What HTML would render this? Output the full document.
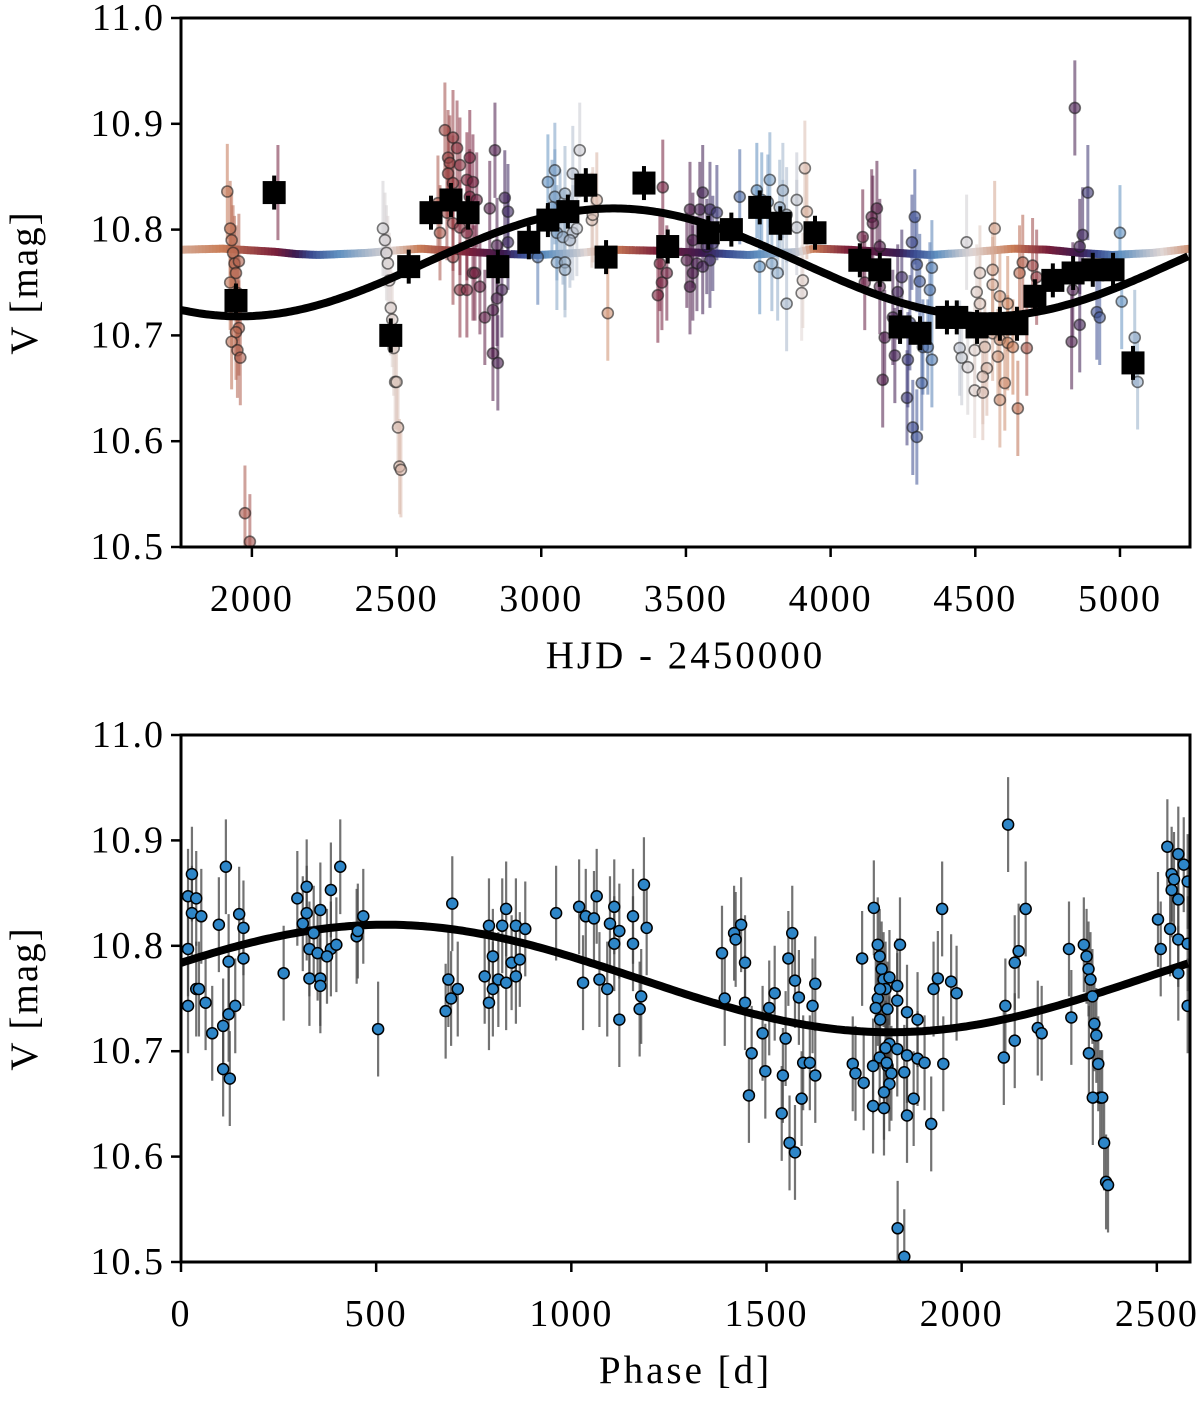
<!DOCTYPE html>
<html><head><meta charset="utf-8"><style>
html,body{margin:0;padding:0;background:#fff}
svg{display:block}
text{font-family:"Liberation Serif","DejaVu Serif",serif;fill:#000}
</style></head><body>
<svg id="chart" width="1200" height="1402" viewBox="0 0 1200 1402" xmlns="http://www.w3.org/2000/svg">
<g id="top"></g>
<g id="bot"></g>
</svg>
<script>
// ---- data ----
const obsT = [1915,1925,1930,1935,1940,1945,1950,1955,1945,1930,1950,1960,1925,1955,1976,1993,2090,
2453,2460,2465,2470,2475,2480,2485,2490,2495,2500,2505,2510,2515,
2667,2695,2709,2678,2684,2719,2753,2678,2695,2743,2764,2643,2674,2695,2719,2650,2743,2695,2719,2743,2764,2788,2753,2777,
2840,2874,2822,2885,2885,2847,2771,2864,2847,2805,2833,2833,2850,
3023,3047,3047,3082,3109,3133,3037,3065,3054,3075,3109,3099,3123,3175,3192,3178,3054,3082,3082,2988,3230,
3420,3410,3434,3417,3403,
3558,3514,3548,3583,3607,3524,3572,3503,3538,3583,3524,3558,3514,3593,
3686,3745,3790,3835,3762,3783,3824,3848,3883,3911,3918,3835,3883,3755,3797,3817,3904,3900,3848,
4160,4142,4146,4111,4170,4118,4170,4215,4187,4222,4180,
4291,4281,4298,4308,4350,4246,4232,4343,4274,4319,4336,4267,4350,4315,4264,4284,4298,
4470,4567,4516,4560,4505,4560,4585,4516,4612,4664,4698,4653,4712,4446,4453,4474,4498,4533,4560,4585,4612,4630,4678,4578,4540,4526,4498,4526,4602,4585,4647,
4844,4889,4871,4861,4837,4920,4930,4861,4833,
5000,5006,5051,5061];
const obsV = [10.836,10.801,10.790,10.778,10.768,10.759,10.740,10.707,10.703,10.694,10.686,10.679,10.750,10.770,10.532,10.505,10.835,
10.801,10.790,10.778,10.768,10.752,10.726,10.715,10.688,10.656,10.656,10.613,10.576,10.573,
10.894,10.887,10.877,10.868,10.863,10.861,10.868,10.853,10.844,10.847,10.845,10.825,10.816,10.806,10.802,10.797,10.797,10.774,10.743,10.743,10.759,10.746,10.831,10.828,
10.875,10.830,10.820,10.817,10.788,10.785,10.759,10.743,10.735,10.717,10.724,10.683,10.674,
10.845,10.856,10.831,10.834,10.853,10.875,10.821,10.812,10.797,10.793,10.797,10.790,10.801,10.809,10.828,10.814,10.769,10.769,10.762,10.774,10.721,
10.840,10.768,10.759,10.750,10.738,
10.835,10.819,10.819,10.819,10.816,10.790,10.784,10.771,10.768,10.771,10.759,10.765,10.746,10.787,
10.831,10.837,10.847,10.837,10.828,10.826,10.821,10.814,10.828,10.858,10.817,10.802,10.802,10.765,10.768,10.759,10.752,10.740,10.730,
10.820,10.812,10.806,10.793,10.784,10.750,10.746,10.717,10.698,10.681,10.658,
10.812,10.788,10.767,10.751,10.764,10.755,10.741,10.743,10.712,10.689,10.689,10.677,10.677,10.655,10.641,10.613,10.604,
10.788,10.801,10.759,10.762,10.741,10.748,10.737,10.730,10.730,10.769,10.766,10.759,10.755,10.688,10.679,10.670,10.686,10.689,10.702,10.696,10.693,10.689,10.688,10.680,10.669,10.661,10.648,10.646,10.655,10.639,10.631,
10.915,10.835,10.795,10.784,10.743,10.722,10.717,10.710,10.694,
10.797,10.732,10.698,10.656];
const obsErr = 0.045;
const binT = [1945,2077,2480,2542,2619,2688,2747,2850,2957,3023,3092,3154,3224,3355,3437,3577,3657,3755,3826,3946,4101,4170,4240,4309,4402,4436,4506,4585,4644,4706,4768,4838,4906,4976,5045];
const binV = [10.733,10.835,10.700,10.765,10.816,10.828,10.816,10.765,10.788,10.809,10.817,10.842,10.774,10.844,10.784,10.797,10.800,10.821,10.806,10.797,10.771,10.762,10.708,10.702,10.717,10.717,10.708,10.711,10.711,10.737,10.752,10.759,10.762,10.762,10.674];
const curveT = [1755,1900,2080,2150,2230,2400,2480,2580,2750,2870,2990,3130,3250,3400,3560,3715,3890,3940,4060,4230,4343,4457,4630,4748,4860,4973,5113,5242];
const curveV = [10.781,10.782,10.779,10.777,10.776,10.778,10.780,10.782,10.779,10.777,10.776,10.778,10.781,10.780,10.778,10.776,10.779,10.782,10.781,10.778,10.776,10.778,10.782,10.781,10.778,10.776,10.778,10.782];
const curveC = [0.1,0.2,0.4,0.5,0.65,0.9,1.0,1.2,1.4,1.5,1.7,1.95,2.2,2.4,2.5,2.7,2.95,3.2,3.4,3.5,3.7,3.95,4.2,4.4,4.5,4.7,4.95,5.15];
const modelMean = 10.769, modelAmp = 0.051, modelPeak = 3250, period = 2585, t0 = 140;
const xTicksTop = [2000,2500,3000,3500,4000,4500,5000];
const xTicksBot = [0,500,1000,1500,2000,2500];
const yTicks = [10.5,10.6,10.7,10.8,10.9,11.0];

// ---- helpers ----
const NS = "http://www.w3.org/2000/svg";
function mk(tag, attrs, parent){const e=document.createElementNS(NS,tag);for(const k in attrs)e.setAttribute(k,attrs[k]);parent.appendChild(e);return e;}
const stops=[[0,[224,214,212]],[0.2,[201,124,86]],[0.4,[122,31,58]],[0.5,[59,26,79]],[0.6,[58,74,143]],[0.75,[95,144,192]],[1,[224,214,212]]];
function cmap(c){c=((c%1)+1)%1;for(let i=0;i<stops.length-1;i++){const a=stops[i],b=stops[i+1];if(c>=a[0]&&c<=b[0]){const f=(c-a[0])/(b[0]-a[0]);const r=a[1].map((v,j)=>Math.round(v+(b[1][j]-v)*f));return `rgb(${r[0]},${r[1]},${r[2]})`;}}return "rgb(224,214,212)";}
function interp(xs,ys,x){if(x<=xs[0])return ys[0];for(let i=0;i<xs.length-1;i++){if(x<=xs[i+1]){const f=(x-xs[i])/(xs[i+1]-xs[i]);return ys[i]+(ys[i+1]-ys[i])*f;}}return ys[ys.length-1];}
function model(t){return modelMean+modelAmp*Math.cos(2*Math.PI*(t-modelPeak)/period);}

function axes(g, L,R,T,B, xmin,xmax, xticks, xlabel, nameP){
  const sx=v=>L+(v-xmin)/(xmax-xmin)*(R-L);
  const sy=v=>B-(v-10.5)/(0.5)*(B-T);
  const clipId='clip'+nameP;
  const cp=mk('clipPath',{id:clipId},g);mk('rect',{x:L,y:T,width:R-L,height:B-T},cp);
  const plot=mk('g',{'clip-path':`url(#${clipId})`},g);
  
  
  const xa=mk('g',{},g);
  
  
  xticks.forEach(v=>{const x=sx(v);mk('line',{x1:x,x2:x,y1:B,y2:B+10,stroke:'#000','stroke-width':2.5},xa);
    const t=mk('text',{x:x,y:B+64,'text-anchor':'middle','font-size':38,'letter-spacing':2},xa);t.textContent=v;
    
    });
  const xl=mk('text',{x:(L+R)/2,y:B+121,'text-anchor':'middle','font-size':39,'letter-spacing':3},g);xl.textContent=xlabel;
  
  
  const ya=mk('g',{},g);
  
  
  yTicks.forEach(v=>{const y=sy(v);mk('line',{x1:L-10,x2:L,y1:y,y2:y,stroke:'#000','stroke-width':2.5},ya);
    const t=mk('text',{x:L-16,y:y+12,'text-anchor':'end','font-size':38,'letter-spacing':2},ya);t.textContent=v.toFixed(1);
    
    });
  const yl=mk('text',{x:0,y:0,'text-anchor':'middle','font-size':39,'letter-spacing':2,transform:`translate(37,${(T+B)/2}) rotate(-90)`},g);yl.textContent='V [mag]';
  
  
  return {sx,sy,plot,frame:()=>{const f=mk('rect',{x:L,y:T,width:R-L,height:B-T,fill:'none',stroke:'#000','stroke-width':3},g);
    
    }};
}

// ---- top panel ----
const gt=document.getElementById('top');
const A=axes(gt,181,1190,18,547,1755,5242,xTicksTop,'HJD - 2450000','top');
const ebT=mk('g',{},A.plot);


obsT.forEach((t,i)=>{const c=cmap(interp(curveT,curveC,t));const x=A.sx(t);
  mk('line',{x1:x,x2:x,y1:A.sy(obsV[i]-obsErr),y2:A.sy(obsV[i]+obsErr),stroke:c,'stroke-width':3,'stroke-opacity':0.55},ebT);});
const cg=mk('g',{},A.plot);


for(let t=curveT[0];t<curveT[curveT.length-1];t+=12){const t2=t+12;
  mk('line',{x1:A.sx(t),x2:A.sx(t2)+0.5,y1:A.sy(interp(curveT,curveV,t)),y2:A.sy(interp(curveT,curveV,t2)),stroke:cmap(interp(curveT,curveC,t+6)),'stroke-width':8},cg);}
const ptT=mk('g',{},A.plot);


obsT.forEach((t,i)=>{const c=cmap(interp(curveT,curveC,t));
  const p=mk('circle',{cx:A.sx(t),cy:A.sy(obsV[i]),r:5.5,fill:c,'fill-opacity':0.6,stroke:'#222','stroke-opacity':0.6,'stroke-width':1.6},ptT);
  
  });
let d='';for(let t=1755;t<=5242;t+=10){d+=(d?'L':'M')+A.sx(t).toFixed(1)+','+A.sy(model(t)).toFixed(1);}
const mT=mk('path',{d:d,fill:'none',stroke:'#000','stroke-width':8},A.plot);


const bg=mk('g',{},A.plot);


binT.forEach((t,i)=>{const x=A.sx(t),y=A.sy(binV[i]);
  mk('line',{x1:x,x2:x,y1:y-17,y2:y+17,stroke:'#000','stroke-width':4},bg);
  const s=mk('rect',{x:x-11.5,y:y-11.5,width:23,height:23,fill:'#000'},bg);
  
  });
A.frame();

// ---- bottom panel ----
const gb=document.getElementById('bot');
const B=axes(gb,181,1190,735,1262,0,2585,xTicksBot,'Phase [d]','bottom');
const ph=obsT.map(t=>(((t-t0)%period)+period)%period);
const ebB=mk('g',{},B.plot);


ph.forEach((p,i)=>{const x=B.sx(p);mk('line',{x1:x,x2:x,y1:B.sy(obsV[i]-obsErr),y2:B.sy(obsV[i]+obsErr),stroke:'#444','stroke-width':2.2,'stroke-opacity':0.75},ebB);});
let d2='';for(let p=0;p<=2585;p+=10){d2+=(d2?'L':'M')+B.sx(p).toFixed(1)+','+B.sy(model(p+t0)).toFixed(1);}
const mB=mk('path',{d:d2,fill:'none',stroke:'#000','stroke-width':8},B.plot);


const ptB=mk('g',{},B.plot);


ph.forEach((p,i)=>{const c=mk('circle',{cx:B.sx(p),cy:B.sy(obsV[i]),r:5.5,fill:'#2e86c8',stroke:'#000','stroke-width':1.5},ptB);
  
  });
B.frame();
</script>
</body></html>
